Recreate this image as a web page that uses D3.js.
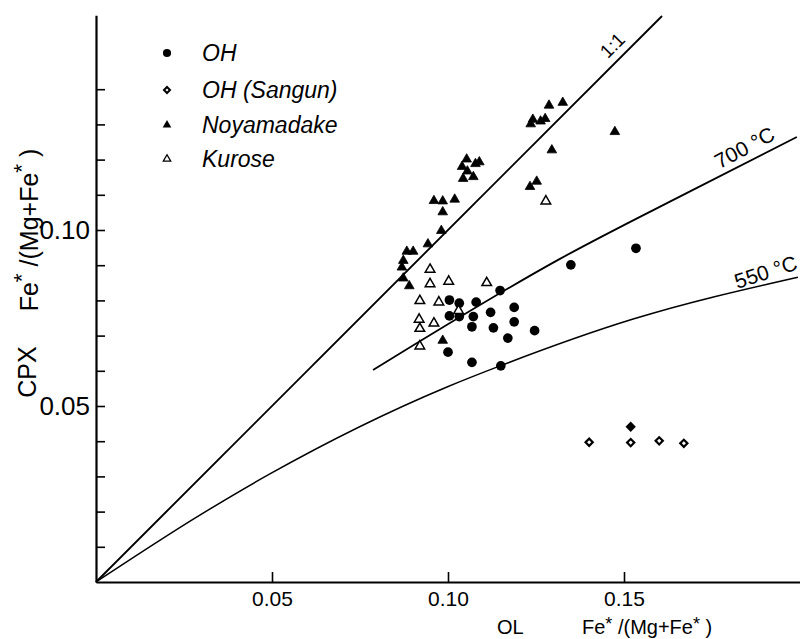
<!DOCTYPE html>
<html>
    <head>
        <title>CPX - OL Fe/(Mg+Fe)</title>
        <meta charset="UTF-8">
        <script src="https://cdn.jsdelivr.net/npm/d3@7/dist/d3.min.js"></script>
        <style>
body { margin: 0; background: #fff; }
text { font-family: "Liberation Sans", Arial, sans-serif; fill: #000; }
        </style>
    </head>
    <body>
        <script>
// OL Fe*/(Mg+Fe*) , CPX Fe*/(Mg+Fe*)
var ohX = [0.1148, 0.1004, 0.1032, 0.1080, 0.1188, 0.1004, 0.1032, 0.1072, 0.1121, 0.1188,
           0.1068, 0.1129, 0.1246, 0.1170, 0.1000, 0.1068, 0.1150, 0.1534, 0.1349];
var ohY = [0.0828, 0.0801, 0.0792, 0.0795, 0.0780, 0.0756, 0.0754, 0.0754, 0.0766, 0.0739,
           0.0725, 0.0722, 0.0714, 0.0693, 0.0653, 0.0624, 0.0614, 0.0948, 0.0901];

var sangunX = [0.1401, 0.1519, 0.1600, 0.1670];
var sangunY = [0.0397, 0.0396, 0.0401, 0.0394];
var sangunSolidX = [0.1519];
var sangunSolidY = [0.0441];

var noyaX = [0.1287, 0.1326, 0.1241, 0.1235, 0.1263, 0.1276, 0.1474, 0.1295, 0.1252, 0.1233,
             0.1053, 0.1040, 0.1055, 0.1078, 0.1089, 0.1043, 0.1072, 0.0960, 0.0985, 0.1019,
             0.0985, 0.0981, 0.0943, 0.0883, 0.0901, 0.0873, 0.0869, 0.0873, 0.0890, 0.0985];
var noyaY = [0.1354, 0.1362, 0.1314, 0.1301, 0.1309, 0.1316, 0.1279, 0.1227, 0.1138, 0.1123,
             0.1201, 0.1180, 0.1167, 0.1188, 0.1193, 0.1146, 0.1151, 0.1083, 0.1082, 0.1087,
             0.1051, 0.0998, 0.0960, 0.0939, 0.0939, 0.0913, 0.0894, 0.0863, 0.0841, 0.0686];

var kuroseX = [0.0949, 0.1002, 0.1110, 0.0949, 0.0920, 0.0974, 0.1030, 0.0918, 0.0920, 0.0960,
               0.0920, 0.1278];
var kuroseY = [0.0888, 0.0854, 0.0850, 0.0847, 0.0799, 0.0795, 0.0771, 0.0746, 0.0720, 0.0735,
               0.0670, 0.1082];

// reference lines
var oneX = [0, 0.1608];
var oneY = [0, 0.1608];
var t700X = [0.0787, 0.1318, 0.1696, 0.1991];
var t700Y = [0.0602, 0.0918, 0.1114, 0.1264];
var t550X = [0, 0.0295, 0.0494, 0.0997, 0.1148, 0.1526, 0.1994];
var t550Y = [0, 0.0190, 0.0307, 0.0554, 0.0614, 0.0747, 0.0866];

var xTicks = [0.05, 0.10, 0.15];
var yTicks = [0.01, 0.02, 0.03, 0.04, 0.05, 0.06, 0.07, 0.08, 0.09, 0.10, 0.11, 0.12, 0.13, 0.14];
var yTickLabels = [0.05, 0.10];

var legendNames = ["OH", "OH (Sangun)", "Noyamadake", "Kurose"];

var svg, x, y;

function pts(xs, ys){
    return xs.map(function(d, i){ return [d, ys[i]]; });
}

function create_svg(){
    svg = d3.select("body")
            .append("svg")
            .attr("width", 800)
            .attr("height", 639);
    x = d3.scaleLinear().domain([0, 0.2]).range([96, 800]);
    y = d3.scaleLinear().domain([0, 0.161]).range([582, 582 - 0.161 * 3520]);
}

function draw_axes(){
    var fmt = d3.format(".2f");
    var gx = svg.append("g")
        .attr("transform", "translate(0,582)")
        .call(d3.axisBottom(x).tickValues(xTicks).tickSizeInner(-10).tickSizeOuter(0)
              .tickPadding(9).tickFormat(fmt));
    gx.select(".domain").attr("stroke-width", 2.2);
    gx.selectAll(".tick line").attr("stroke-width", 1.6);
    gx.selectAll(".tick text").attr("font-size", 21).attr("font-family", "Liberation Sans");

    var gy = svg.append("g")
        .attr("transform", "translate(96,0)")
        .call(d3.axisLeft(y).tickValues(yTicks).tickSizeInner(-9).tickSizeOuter(0)
              .tickPadding(6)
              .tickFormat(function(d){
                  return yTickLabels.some(function(v){ return Math.abs(v - d) < 1e-9; }) ? fmt(d) : "";
              }));
    gy.select(".domain").attr("stroke-width", 2.2);
    gy.selectAll(".tick line").attr("stroke-width", 1.6);
    gy.selectAll(".tick text").attr("font-size", 26).attr("font-family", "Liberation Sans");
}

// text with raised asterisks: Fe* /(Mg+Fe* )
function fe_label(g, size, rise){
    var parts = [["Fe", 0], ["*", -1], [" /(Mg+Fe", 1], ["*", -1], [" )", 1]];
    var t = g.append("text").attr("font-size", size).attr("xml:space", "preserve");
    parts.forEach(function(p){
        var s = t.append("tspan").text(p[0]);
        if(p[1] == -1) s.attr("dy", -rise).attr("font-size", size * 0.9);
        if(p[1] == 1) s.attr("dy", rise);
    });
    return t;
}

function draw_lines(){
    var line = d3.line()
        .x(function(d){ return x(d[0]); })
        .y(function(d){ return y(d[1]); })
        .curve(d3.curveMonotoneX);
    svg.append("path").datum(pts(oneX, oneY)).attr("d", line)
       .attr("fill", "none").attr("stroke", "#000").attr("stroke-width", 1.9);
    svg.append("path").datum(pts(t700X, t700Y)).attr("d", line)
       .attr("fill", "none").attr("stroke", "#000").attr("stroke-width", 1.8);
    svg.append("path").datum(pts(t550X, t550Y)).attr("d", line)
       .attr("fill", "none").attr("stroke", "#000").attr("stroke-width", 1.5);

    svg.append("text").attr("transform", "translate(617,50) rotate(-45)")
       .attr("text-anchor", "middle").attr("font-size", 19).text("1:1");
    svg.append("text").attr("transform", "translate(748,154) rotate(-28)")
       .attr("text-anchor", "middle").attr("font-size", 21).text("700 °C");
    svg.append("text").attr("transform", "translate(768,279) rotate(-18)")
       .attr("text-anchor", "middle").attr("font-size", 21).text("550 °C");
}

function draw_points(){
    var circle = d3.symbol().type(d3.symbolCircle).size(74);
    var tri = d3.symbol().type(d3.symbolTriangle).size(40);
    var diamond = d3.symbol().type(d3.symbolSquare).size(26);

    svg.selectAll(".oh").data(pts(ohX, ohY)).enter().append("path")
       .attr("d", circle)
       .attr("transform", function(d){ return "translate(" + x(d[0]) + "," + y(d[1]) + ")"; })
       .attr("fill", "#000");
    svg.selectAll(".noya").data(pts(noyaX, noyaY)).enter().append("path")
       .attr("d", tri)
       .attr("transform", function(d){ return "translate(" + x(d[0]) + "," + y(d[1]) + ")"; })
       .attr("fill", "#000").attr("stroke", "#000").attr("stroke-width", 0.8);
    svg.selectAll(".kur").data(pts(kuroseX, kuroseY)).enter().append("path")
       .attr("d", tri)
       .attr("transform", function(d){ return "translate(" + x(d[0]) + "," + y(d[1]) + ")"; })
       .attr("fill", "#fff").attr("stroke", "#000").attr("stroke-width", 1.5);
    svg.selectAll(".san").data(pts(sangunX, sangunY)).enter().append("path")
       .attr("d", diamond)
       .attr("transform", function(d){ return "translate(" + x(d[0]) + "," + y(d[1]) + ") rotate(45)"; })
       .attr("fill", "#fff").attr("stroke", "#000").attr("stroke-width", 2.2);
    svg.selectAll(".sans").data(pts(sangunSolidX, sangunSolidY)).enter().append("path")
       .attr("d", diamond)
       .attr("transform", function(d){ return "translate(" + x(d[0]) + "," + y(d[1]) + ") rotate(45)"; })
       .attr("fill", "#000").attr("stroke", "#000").attr("stroke-width", 2.2);
}

function draw_legend(){
    var ys = [53, 90, 125, 159];
    var syms = [
        d3.symbol().type(d3.symbolCircle).size(52),
        d3.symbol().type(d3.symbolSquare).size(18),
        d3.symbol().type(d3.symbolTriangle).size(32),
        d3.symbol().type(d3.symbolTriangle).size(24)
    ];
    legendNames.forEach(function(name, i){
        var m = svg.append("path").attr("d", syms[i])
            .attr("transform", "translate(167," + ys[i] + ")" + (i == 1 ? " rotate(45)" : ""));
        if(i == 0) m.attr("fill", "#000");
        if(i == 1) m.attr("fill", "#fff").attr("stroke", "#000").attr("stroke-width", 2);
        if(i == 2) m.attr("fill", "#000");
        if(i == 3) m.attr("fill", "#fff").attr("stroke", "#000").attr("stroke-width", 1.3);
        svg.append("text").attr("x", 202).attr("y", ys[i] + 8)
           .attr("font-size", 23).attr("font-style", "italic").text(name);
    });
}

function draw_titles(){
    var g1 = svg.append("g").attr("transform", "translate(38,230) rotate(-90)");
    fe_label(g1, 25, 9).attr("text-anchor", "middle");
    svg.append("text").attr("transform", "translate(36,372) rotate(-90)")
       .attr("text-anchor", "middle").attr("font-size", 25).text("CPX");

    svg.append("text").attr("x", 497).attr("y", 634).attr("font-size", 20).text("OL");
    var g2 = svg.append("g").attr("transform", "translate(582,634)");
    fe_label(g2, 20, 4);
}

window.onload = function(){
    create_svg();
    draw_axes();
    draw_lines();
    draw_points();
    draw_legend();
    draw_titles();
};
        </script>
    </body>
</html>
